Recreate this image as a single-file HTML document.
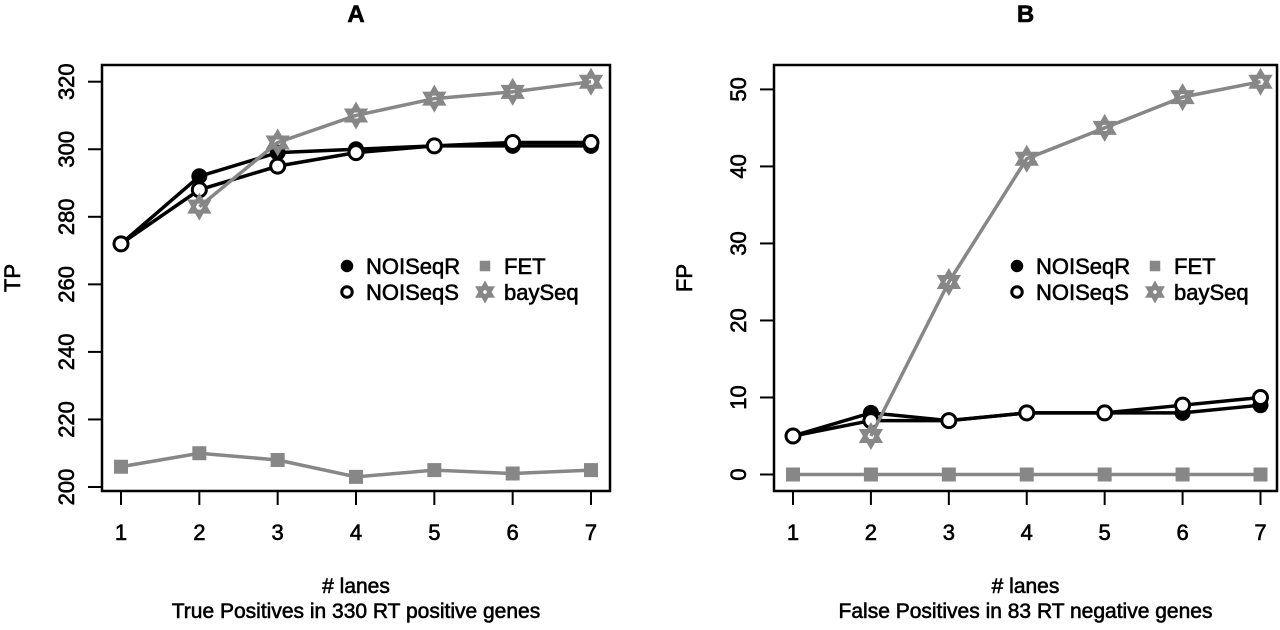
<!DOCTYPE html>
<html><head><meta charset="utf-8"><style>
html,body{margin:0;padding:0;background:#fff;}
svg text{font-family:"Liberation Sans",sans-serif;fill:#000;stroke:#000;stroke-width:0.6px;}
</style></head><body>
<svg id="chart" width="1280" height="625" viewBox="0 0 1280 625" xmlns="http://www.w3.org/2000/svg"></svg>
<script>
const lanes = [1,2,3,4,5,6,7];
const tpNoiR = [272,292,299,300,301,301,301];
const tpNoiS = [272,288,295,299,301,302,302];
const tpFET = [206,210,208,203,205,204,205];
const tpBay = [null,283,302,310,315,317,320];
const fpNoiR = [5,8,7,8,8,8,9];
const fpNoiS = [5,7,7,8,8,9,10];
const fpFET = [0,0,0,0,0,0,0];
const fpBay = [null,5,25,41,45,49,51];
const tpTicks = [200,220,240,260,280,300,320];
const fpTicks = [0,10,20,30,40,50];

const svg = document.getElementById('chart');
const NS = 'http://www.w3.org/2000/svg';
function mk(tag, attrs, parent){
  const e = document.createElementNS(NS, tag);
  for (const k in attrs) e.setAttribute(k, attrs[k]);
  (parent||svg).appendChild(e);
  return e;
}
const GRAY = '#878787';

function panel(cfg){
  const g = mk('g', {});
  
  
  const xs = v => cfg.x1 + (v-1)*(cfg.x7-cfg.x1)/6;
  const ys = v => cfg.yA + (v-cfg.vA)*(cfg.yB-cfg.yA)/(cfg.vB-cfg.vA);
  const box = mk('rect', {x:cfg.L, y:cfg.T, width:cfg.R-cfg.L, height:cfg.B-cfg.T, fill:'none', stroke:'#000', 'stroke-width':2.5}, g);
  
  
  const title = mk('text', {x:(cfg.L+cfg.R)/2, y:22, 'text-anchor':'middle', 'font-size':24, 'font-weight':'bold'}, g);
  title.textContent = cfg.title;
  
  
  lanes.forEach(v=>{
    const x = xs(v);
    mk('line', {x1:x, x2:x, y1:cfg.B, y2:cfg.B+14, stroke:'#000', 'stroke-width':2}, g);
    const t = mk('text', {x:x, y:540, 'text-anchor':'middle', 'font-size':22}, g);
    t.textContent = v;
    
    
  });
  cfg.ticks.forEach(v=>{
    const y = ys(v);
    mk('line', {x1:cfg.L-14, x2:cfg.L, y1:y, y2:y, stroke:'#000', 'stroke-width':2}, g);
    const t = mk('text', {x:0, y:0, 'text-anchor':'middle', 'font-size':22, transform:`translate(${cfg.L-28},${y}) rotate(-90)`}, g);
    t.textContent = v;
    
    
  });
  const yt = mk('text', {x:0, y:0, 'text-anchor':'middle', 'font-size':22, transform:`translate(${cfg.L-82},${(cfg.T+cfg.B)/2}) rotate(-90)`}, g);
  yt.textContent = cfg.ylab;
  
  
  const xt = mk('text', {x:(cfg.L+cfg.R)/2, y:593, 'text-anchor':'middle', 'font-size':21}, g);
  xt.textContent = '# lanes';
  
  
  const st = mk('text', {x:(cfg.L+cfg.R)/2, y:618, 'text-anchor':'middle', 'font-size':21}, g);
  st.textContent = cfg.sub;
  
  

  function series(vals, color, kind, name){
    const sg = mk('g', {}, g);
    
    
    let d = '';
    vals.forEach((v,i)=>{ if (v===null) return; d += (d?'L':'M') + xs(lanes[i]) + ' ' + ys(v); });
    mk('path', {d:d, fill:'none', stroke:color, 'stroke-width':3.5}, sg);
    vals.forEach((v,i)=>{ if (v===null) return; marker(sg, xs(lanes[i]), ys(v), kind); });
  }
  series(cfg.fet, GRAY, 'square', 'series-fet');
  series(cfg.noiR, '#000', 'filled', 'series-noiseqr');
  series(cfg.noiS, '#000', 'open', 'series-noiseqs');
  series(cfg.bay, GRAY, 'star', 'series-bayseq');

  const lg = mk('g', {}, g);
  
  
  const items = [['NOISeqR','filled',0,0],['FET','square',1,0],['NOISeqS','open',0,1],['baySeq','star',1,1]];
  items.forEach(it=>{
    const x = cfg.lgX + it[2]*cfg.lgC;
    const y = cfg.lgY + it[3]*26;
    const e = mk('g', {}, lg);
    
    
    marker(e, x, y, it[1], 0.75);
    const t = mk('text', {x:x+19, y:y+8, 'font-size':22}, e);
    t.textContent = it[0];
  });
}
function marker(p, x, y, kind, s){
  s = s||1;
  if (kind==='filled') mk('circle', {cx:x, cy:y, r:7*s, fill:'#000', stroke:'#000', 'stroke-width':2}, p);
  else if (kind==='open') mk('circle', {cx:x, cy:y, r:7*s, fill:'#fff', stroke:'#000', 'stroke-width':3}, p);
  else if (kind==='square') mk('rect', {x:x-7*s, y:y-7*s, width:14*s, height:14*s, fill:GRAY}, p);
  else {
    const r = 10*s;
    const tri = a => [0,1,2].map(k=>{const ang=(a+k*120)*Math.PI/180; return (x+r*Math.sin(ang))+','+(y-r*Math.cos(ang));}).join(' ');
    mk('polygon', {points:tri(0), fill:'none', stroke:GRAY, 'stroke-width':4}, p);
    mk('polygon', {points:tri(180), fill:'none', stroke:GRAY, 'stroke-width':4}, p);
  }
}
panel({name:'panel-a', title:'A', L:102, R:610, T:65, B:491, x1:121, x7:591, vA:320, yA:81.7, vB:200, yB:487,
  ticks:tpTicks, ylab:'TP', sub:'True Positives in 330 RT positive genes',
  noiR:tpNoiR, noiS:tpNoiS, fet:tpFET, bay:tpBay, lgX:347, lgY:266, lgC:138});
panel({name:'panel-b', title:'B', L:774, R:1277, T:65, B:491, x1:793, x7:1260.5, vA:51, yA:81.7, vB:0, yB:474.5,
  ticks:fpTicks, ylab:'FP', sub:'False Positives in 83 RT negative genes',
  noiR:fpNoiR, noiS:fpNoiS, fet:fpFET, bay:fpBay, lgX:1017, lgY:266, lgC:138});
</script>
</body></html>
